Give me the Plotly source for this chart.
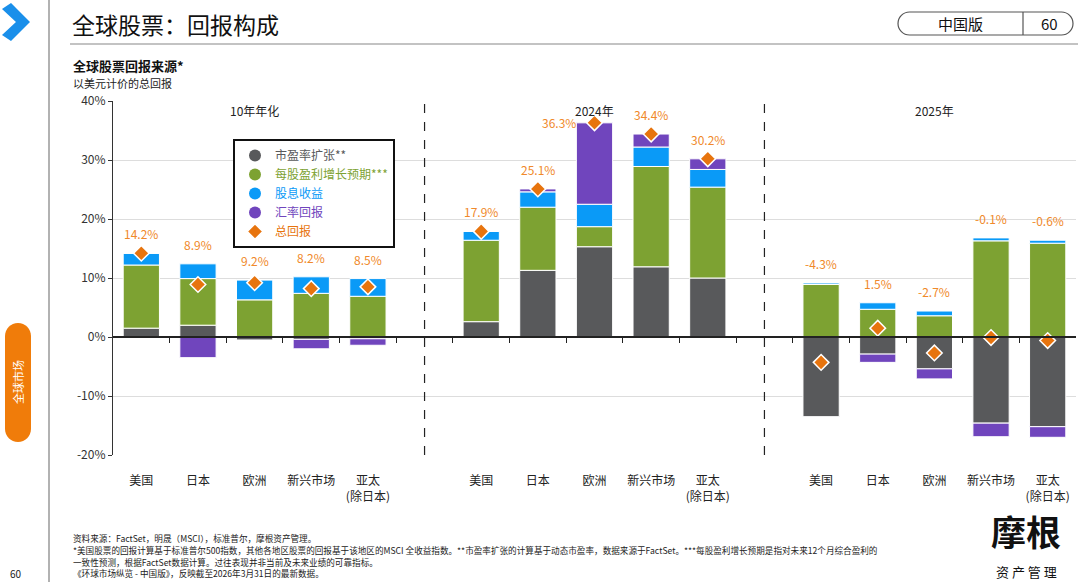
import numpy as np
import plotly.graph_objects as go

# ---- data ----
regions = ["美国", "日本", "欧洲", "新兴市场", "亚太<br>(除日本)"]
periods = ["10年年化", "2024年", "2025年"]

pe_10y = [1.5, 2.0, -0.5, -0.4, -0.3]
eps_10y = [10.7, 7.9, 6.3, 7.4, 6.9]
div_10y = [2.0, 2.5, 3.4, 2.8, 3.0]
fx_10y = [0.0, -3.5, 0.0, -1.6, -1.1]
total_10y = [14.2, 8.9, 9.2, 8.2, 8.5]

pe_2024 = [2.6, 11.3, 15.3, 11.9, 10.0]
eps_2024 = [13.8, 10.7, 3.4, 17.0, 15.4]
div_2024 = [1.5, 2.6, 3.8, 3.3, 3.0]
fx_2024 = [0.0, 0.5, 13.8, 2.2, 1.8]
total_2024 = [17.9, 25.1, 36.3, 34.4, 30.2]

pe_2025 = [-13.5, -2.9, -5.4, -14.6, -15.2]
eps_2025 = [8.9, 4.7, 3.6, 16.3, 15.9]
div_2025 = [0.3, 1.1, 0.8, 0.5, 0.5]
fx_2025 = [0.0, -1.4, -1.7, -2.3, -1.8]
total_2025 = [-4.3, 1.5, -2.7, -0.1, -0.6]

y_ticks = [-20, -10, 0, 10, 20, 30, 40]

series_names = ["市盈率扩张**", "每股盈利增长预期***", "股息收益", "汇率回报"]
series_colors = ["#58595B", "#7DA232", "#0A9AF7", "#7045BD"]
total_name = "总回报"
total_color = "#E7740E"
label_color = "#F0892A"

W, H = 1080, 582
FONT = "Noto Sans CJK SC"


def px(x):
    return x / W


def py(y):
    return 1 - y / H


# slot positions: 5 bars per period, one empty slot between periods
x_pos = [g * 6 + i for g in range(len(periods)) for i in range(len(regions))]
pe = pe_10y + pe_2024 + pe_2025
eps = eps_10y + eps_2024 + eps_2025
div = div_10y + div_2024 + div_2025
fx = fx_10y + fx_2024 + fx_2025
total = total_10y + total_2024 + total_2025

fig = go.Figure()

for name, vals, col in zip(series_names, [pe, eps, div, fx], series_colors):
    fig.add_trace(go.Bar(
        x=x_pos, y=vals, marker=dict(color=col, line=dict(color="white", width=1)),
        width=0.64, showlegend=False, hoverinfo="skip",
    ))
    # legend entry with round marker and coloured text
    fig.add_trace(go.Scatter(
        x=[None], y=[None], mode="markers",
        marker=dict(symbol="circle", size=12, color=col),
        name=f'<span style="color:{col}">{name}</span>',
    ))

fig.add_trace(go.Scatter(
    x=x_pos, y=total, mode="markers", xaxis="x2",
    marker=dict(symbol="diamond", size=12, color=total_color, line=dict(color="white", width=1.5)),
    name=f'<span style="color:{total_color}">{total_name}</span>',
))

# total labels above the positive part of each stack
for x, a, b, c, d, t in zip(x_pos, pe, eps, div, fx, total):
    top = sum(v for v in (a, b, c, d) if v > 0)
    if top > 35:
        fig.add_annotation(x=x, y=top, xref="x", yref="y", text=f"{t:.1f}%",
                           showarrow=False, xanchor="right", yanchor="middle", xshift=-17,
                           font=dict(size=12, color=label_color))
    else:
        fig.add_annotation(x=x, y=top, xref="x", yref="y", text=f"{t:.1f}%",
                           showarrow=False, xanchor="center", yanchor="bottom", yshift=9,
                           font=dict(size=12, color=label_color))

# period titles
for g, p in enumerate(periods):
    fig.add_annotation(x=g * 6 + 2, y=38.4, xref="x", yref="y", text=p, showarrow=False,
                       xanchor="center", yanchor="middle", font=dict(size=12, color="#222"))

# dashed dividers between periods
for g in range(1, len(periods)):
    fig.add_shape(type="line", xref="x", yref="y", x0=g * 6 - 1, x1=g * 6 - 1, y0=-20, y1=40,
                  line=dict(color="#222", width=1.2, dash="dash"))

xr = [-0.5, 16.5]
y_dom = [py(455), py(101)]
zero_pos = y_dom[0] + (y_dom[1] - y_dom[0]) * 20 / 60

fig.update_layout(
    width=W, height=H, margin=dict(l=0, r=0, t=0, b=0, autoexpand=False),
    paper_bgcolor="white", plot_bgcolor="white",
    font=dict(family=FONT, color="#222"),
    barmode="relative",
    xaxis=dict(domain=[px(113), px(1076)], range=xr, tickvals=x_pos,
               ticktext=[r for _ in periods for r in regions],
               ticks="", showline=False, showgrid=False, zeroline=False, automargin=False,
               tickfont=dict(size=12, color="#222"), ticklabelstandoff=17),
    xaxis2=dict(overlaying="x", anchor="free", position=zero_pos, range=xr,
                tickvals=np.arange(0.5, 16, 1.0), showticklabels=False,
                ticks="outside", ticklen=5, tickcolor="#222", automargin=False,
                showline=True, linecolor="#222", linewidth=1.5, showgrid=False, zeroline=False),
    yaxis=dict(domain=y_dom, range=[-20, 40], tickvals=y_ticks,
               ticktext=[f"{v}%" for v in y_ticks], automargin=False,
               showline=True, linecolor="#333", linewidth=1.2,
               ticks="outside", ticklen=4, tickcolor="#333",
               gridcolor="#DDDDDD", zeroline=False, tickfont=dict(size=12, color="#333")),
    legend=dict(x=px(233), y=py(139), xanchor="left", yanchor="top",
                bgcolor="white", bordercolor="#111", borderwidth=2,
                font=dict(size=12, family=FONT), itemwidth=30, tracegroupgap=0),
    showlegend=True,
)


# ---- page decoration ----
def pill_path(x0, y0, x1, y1):
    # rounded capsule in pixel coords -> paper path
    r = min(x1 - x0, y1 - y0) / 2
    k = 0.552 * r
    pts = [
        ("M", [(x0 + r, y0)]),
        ("L", [(x1 - r, y0)]),
        ("C", [(x1 - r + k, y0), (x1, y0 + r - k), (x1, y0 + r)]),
        ("L", [(x1, y1 - r)]),
        ("C", [(x1, y1 - r + k), (x1 - r + k, y1), (x1 - r, y1)]),
        ("L", [(x0 + r, y1)]),
        ("C", [(x0 + r - k, y1), (x0, y1 - r + k), (x0, y1 - r)]),
        ("L", [(x0, y0 + r)]),
        ("C", [(x0, y0 + r - k), (x0 + r - k, y0), (x0 + r, y0)]),
    ]
    s = ""
    for cmd, ps in pts:
        s += cmd + " " + " ".join(f"{px(a):.5f},{py(b):.5f}" for a, b in ps) + " "
    return s + "Z"


def note(x, y, text, size, color="#222", xanchor="left", **kw):
    fig.add_annotation(x=px(x), y=py(y), xref="paper", yref="paper", text=text,
                       showarrow=False, xanchor=xanchor, yanchor="middle",
                       font=dict(size=size, color=color, family=kw.pop("family", FONT)), **kw)


# chevron
chev = [(2, 9), (11, 3), (30, 22), (11, 41), (2, 35), (16, 22)]
fig.add_shape(type="path", xref="paper", yref="paper",
              path="M " + " L ".join(f"{px(a):.5f},{py(b):.5f}" for a, b in chev) + " Z",
              fillcolor="#1A8FEA", line=dict(width=0))
# sidebar separator
fig.add_shape(type="line", xref="paper", yref="paper", x0=px(49), x1=px(49), y0=0, y1=1,
              line=dict(color="#999", width=1.5))
# title + underline
fig.add_shape(type="line", xref="paper", yref="paper", x0=px(70), x1=px(1078), y0=py(44), y1=py(44),
              line=dict(color="#888", width=1.2))
note(70, 24, "全球股票：回报构成", 23, "#111")
# edition pill
fig.add_shape(type="path", xref="paper", yref="paper", path=pill_path(898, 12, 1073, 35),
              fillcolor="white", line=dict(color="#555", width=1.2))
fig.add_shape(type="line", xref="paper", yref="paper", x0=px(1023), x1=px(1023), y0=py(12), y1=py(35),
              line=dict(color="#555", width=1.2))
note(960, 23.5, "中国版", 15, "#111", xanchor="center")
note(1049, 23.5, "60", 15, "#111", xanchor="center")
# subtitles
note(71, 65, "<b>全球股票回报来源*</b>", 13, "#111")
note(71, 83, "以美元计价的总回报", 11, "#222")
# orange side tab
fig.add_shape(type="path", xref="paper", yref="paper", path=pill_path(5, 323, 31, 442),
              fillcolor="#F07C0A", line=dict(width=0))
note(18, 382, "全球市场", 11, "white", xanchor="center", textangle=-90)
# page number
note(16, 573, "60", 10, "#222", xanchor="center")
# footnotes
notes = [
    "资料来源：FactSet，明晟（MSCI），标准普尔，摩根资产管理。",
    "*美国股票的回报计算基于标准普尔500指数，其他各地区股票的回报基于该地区的MSCI 全收益指数。**市盈率扩张的计算基于动态市盈率，数据来源于FactSet。***每股盈利增长预期是指对未来12个月综合盈利的",
    "一致性预测，根据FactSet数据计算。过往表现并非当前及未来业绩的可靠指标。",
    "《环球市场纵览 - 中国版》，反映截至2026年3月31日的最新数据。",
]
for i, t in enumerate(notes):
    note(71, 538 + i * 11.8, t, 8.6)
# logo
note(1026, 530, "<b>摩根</b>", 35, "#111", xanchor="center")
note(1026, 571, "资 产 管 理", 13, "#111", xanchor="center")

fig.write_html("out.html", config={"displayModeBar": False},
               post_script="document.body.style.margin='0';document.body.style.padding='0';")
